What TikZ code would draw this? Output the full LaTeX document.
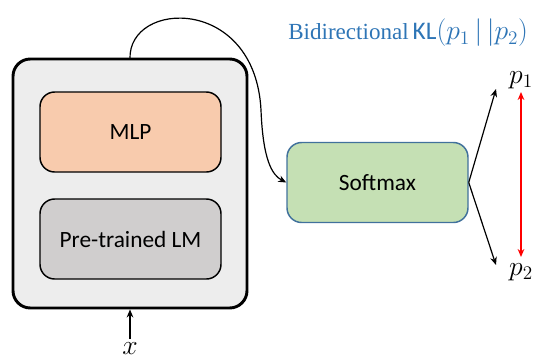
\documentclass[tikz,border=0pt]{standalone}
\usepackage{fontspec}
\setmainfont{Carlito}
\newfontfamily\serifword{Liberation Serif}
\usetikzlibrary{arrows.meta}
\definecolor{boxgray}{RGB}{237,237,237}
\definecolor{mlpcol}{RGB}{248,203,173}
\definecolor{lmcol}{RGB}{208,206,206}
\definecolor{smcol}{RGB}{197,224,180}
\definecolor{smline}{RGB}{65,113,156}
\definecolor{titlecol}{RGB}{46,117,182}
\tikzset{every picture/.style={x=0.75pt,y=-0.75pt}}
\tikzset{block/.style={draw,rounded corners=11pt,line width=1.1pt,minimum width=135.75pt,minimum height=60pt,font=\fontsize{17.5}{21}\selectfont}}
\tikzset{edge/.style={-{Stealth[length=6pt,width=5pt]},line width=0.9pt}}
\tikzset{annot/.style={font=\fontsize{17.5}{21}\selectfont}}
\tikzset{mathlbl/.style={font=\fontsize{20}{24}\selectfont}}

\begin{document}
\begin{tikzpicture}
\useasboundingbox (0,0) rectangle (533,362);
\node [draw,line width=2.2pt,fill=boxgray,rounded corners=13pt,minimum width=175.5pt,minimum height=186.75pt] (outer) at (130,183.5) {};
\node [block,fill=mlpcol] (mlp) at (130.5,132) {MLP};
\node [block,fill=lmcol] (lm) at (130.5,239) {Pre-trained LM};
\node [block,fill=smcol,draw=smline] (sm) at (377.5,182.5) {Softmax};
\coordinate (top) at (130,59);
\coordinate (bend) at (261,110);
\node [mathlbl,anchor=north] (x) at (130,338) {$x$};
\coordinate (xin) at (130,339);
\node [mathlbl] (p1) at (521,80) {$p_1$};
\node [mathlbl] (p2) at (521,272) {$p_2$};
\coordinate (t1) at (496,89);
\coordinate (t2) at (496,265);
\coordinate (r1) at (521,92);
\coordinate (r2) at (521,257);
\node [text=titlecol,anchor=west,inner sep=0pt] (title) at (288,33) {{\serifword\fontsize{17.3}{21}\selectfont Bidirectional}\hspace{3pt}{\fontsize{19}{23}\selectfont KL}{\fontsize{20}{24}\selectfont$(p_1\,|\,|p_2)$}};

\draw [edge] (xin) -- (outer.south);
\draw [line width=0.9pt] (top) .. controls (128,0) and (255,-5) .. (bend);
\draw [edge] (bend) .. controls (263,160) and (272,175) .. (sm.west);
\draw [edge] (sm.east) -- (t1);
\draw [edge] (sm.east) -- (t2);
\draw [red,{Stealth[length=6pt,width=5pt]}-{Stealth[length=6pt,width=5pt]},line width=1pt] (r1) -- (r2);
\end{tikzpicture}
\end{document}
